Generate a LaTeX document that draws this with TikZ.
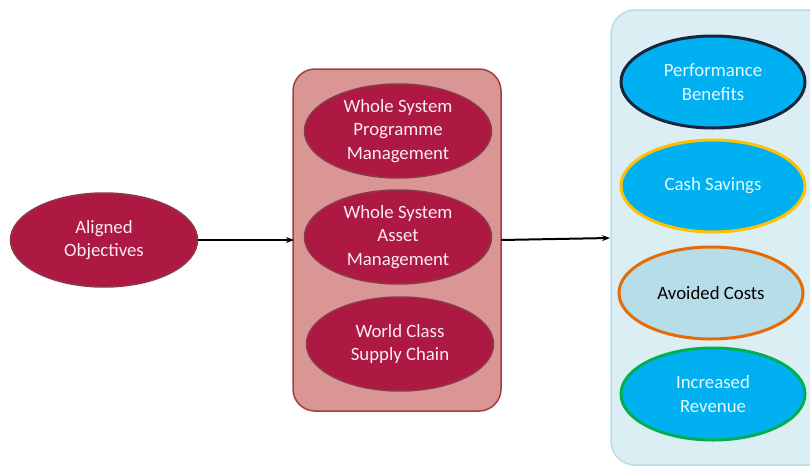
\documentclass[tikz,border=0pt]{standalone}
\usepackage{fontspec}
\setmainfont{Carlito}
\usetikzlibrary{shapes.geometric,arrows.meta}
\definecolor{crimson}{HTML}{AD1942}
\definecolor{crimsonline}{HTML}{8C3A4A}
\definecolor{rosebox}{HTML}{D99694}
\definecolor{roseline}{HTML}{A0403F}
\definecolor{skyfill}{HTML}{00B0F0}
\definecolor{iceline}{HTML}{B7DDE8}
\definecolor{icebox}{HTML}{DBEEF4}
\definecolor{navyline}{HTML}{17253D}
\definecolor{goldline}{HTML}{FFC000}
\definecolor{orangeline}{HTML}{E36C09}
\definecolor{greenline}{HTML}{00B050}
\begin{document}
\begin{tikzpicture}[x=1pt, y=-1pt,
  font=\fontsize{18.8}{23.5}\selectfont,
  redoval/.style={ellipse, minimum width=187pt, minimum height=94pt, inner sep=0pt,
    fill=crimson, draw=crimsonline, line width=1.5pt, text=white!92!crimson, align=center},
  blueoval/.style={ellipse, minimum width=184pt, minimum height=92pt, inner sep=0pt,
    fill=skyfill, line width=3pt, text=white!90!skyfill, align=center},
  flow/.style={line width=2pt, -{Stealth[length=8pt,width=6pt]}}]
\useasboundingbox (0,0) rectangle (810,466);
% containers
\draw[fill=rosebox, draw=roseline, line width=1.5pt, rounded corners=22pt] (293,69) rectangle (501,411);
\draw[fill=icebox, draw=iceline, line width=1.5pt, rounded corners=24pt] (611,10) rectangle (835,465);
\node[redoval] (obj) at (104,240) {Aligned\\Objectives};
\node[redoval] (wsp) at (398,131) {Whole System\\Programme\\Management};
\node[redoval] (wsa) at (398,237) {Whole System\\Asset\\Management};
\node[redoval] (wcs) at (400,344) {World Class\\Supply Chain};
\node[blueoval, draw=navyline] (perf) at (713,82) {Performance\\Benefits};
\node[blueoval, draw=goldline] (cash) at (713,186) {Cash Savings};
\node[blueoval, draw=orangeline, fill=iceline, text=black] (avoid) at (711,293) {Avoided Costs};
\node[blueoval, draw=greenline] (rev) at (713,394) {Increased\\Revenue};
\coordinate (boxin) at (294,240);
\coordinate (boxout) at (501,240);
\coordinate (panelin) at (610,238);
\draw[flow] (obj.east) -- (boxin);
\draw[flow] (boxout) -- (panelin);
\end{tikzpicture}
\end{document}
